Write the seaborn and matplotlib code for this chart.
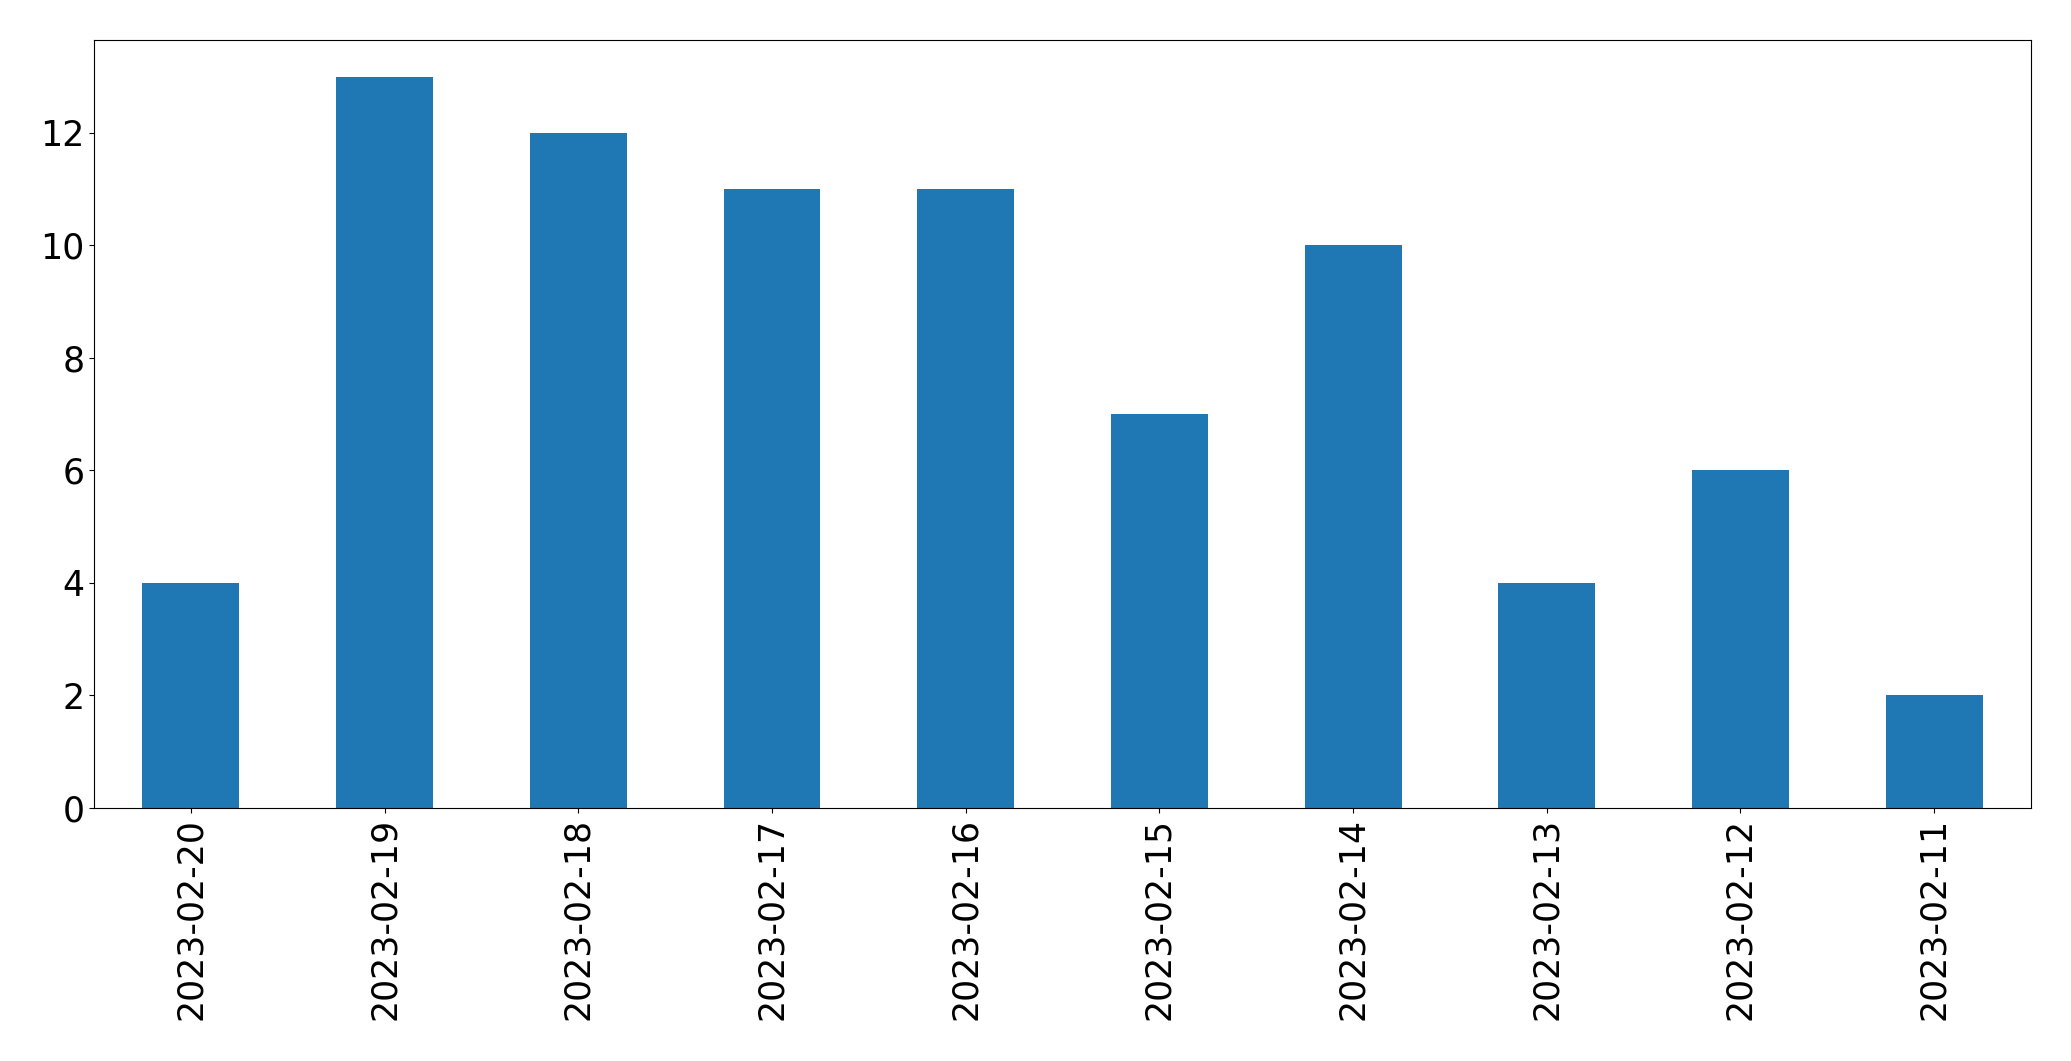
import pandas as pd
import matplotlib
matplotlib.use("Agg")
import matplotlib.pyplot as plt
import seaborn as sns

# daily counts, newest first (as in the source)
dates = ["2023-02-20", "2023-02-19", "2023-02-18", "2023-02-17", "2023-02-16",
         "2023-02-15", "2023-02-14", "2023-02-13", "2023-02-12", "2023-02-11"]
counts = [4, 13, 12, 11, 11, 7, 10, 4, 6, 2]

df = pd.DataFrame({"date": dates, "count": counts})

fig, ax = plt.subplots(figsize=(20.71, 10.61), dpi=100)
fig.subplots_adjust(left=0.0454, right=0.9807, top=0.9623, bottom=0.2385)

sns.barplot(data=df, x="date", y="count", order=dates, color="#1f77b4",
            saturation=1, width=0.5, ax=ax)

ax.set_xlim(-0.5, len(dates) - 0.5)
ax.set_ylim(0, max(counts) * 1.05)
ax.set_yticks(range(0, 13, 2))
ax.set_xlabel("")
ax.set_ylabel("")
ax.tick_params(axis="x", labelrotation=90, labelsize=25)
ax.tick_params(axis="y", labelsize=25)

fig.savefig("out.png", dpi=100)
